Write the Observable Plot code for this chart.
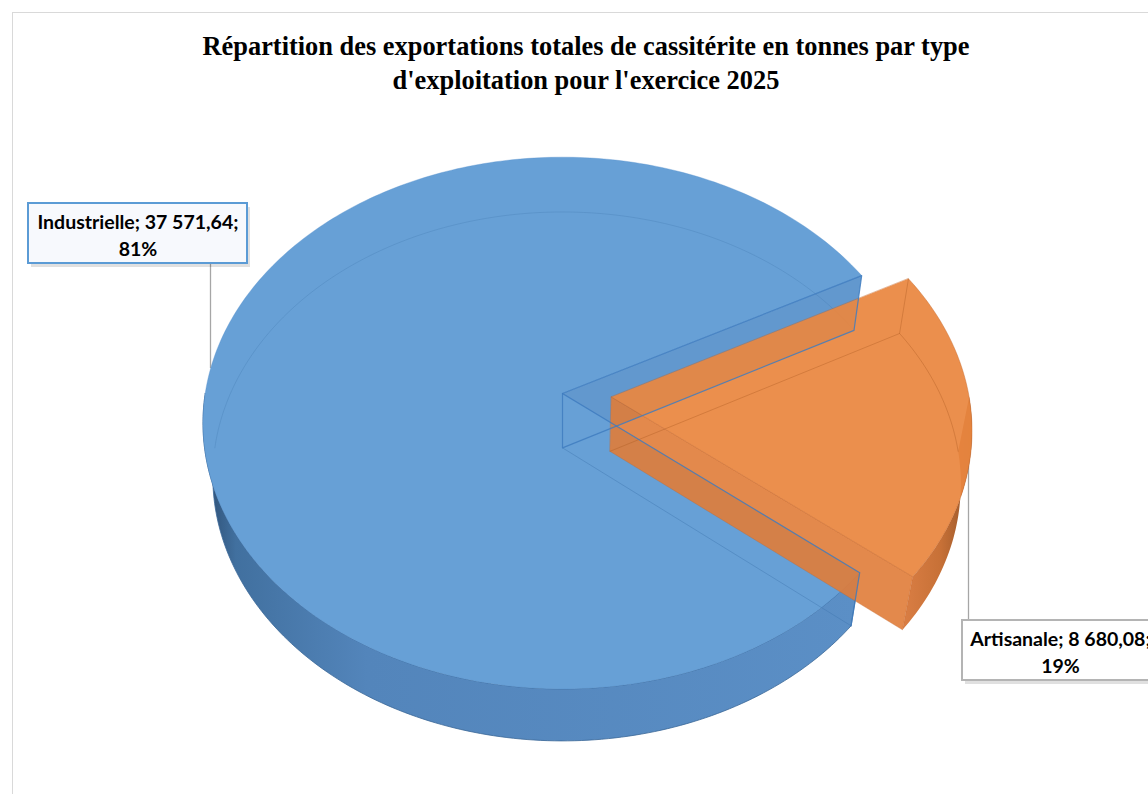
<!DOCTYPE html>
<html><head><meta charset="utf-8">
<script src="https://cdn.jsdelivr.net/npm/d3@7"></script>
<script src="https://cdn.jsdelivr.net/npm/@observablehq/plot@0.6"></script>
<style>
body{margin:0;background:#fff;overflow:hidden;width:1148px;height:794px;position:relative;}
#frame{position:absolute;left:12px;top:12px;width:1300px;height:900px;border-left:1px solid #d9d9d9;border-top:1px solid #d9d9d9;pointer-events:none;z-index:2}
#title{height:100px;box-sizing:border-box;padding-top:29px;padding-left:24px;text-align:center;font-family:"Liberation Serif",serif;font-weight:bold;font-size:26.4px;line-height:34px;color:#000}
#chart svg{display:block}
</style></head><body>
<div id="title">Répartition des exportations totales de cassitérite en tonnes par type<br>d'exploitation pour l'exercice 2025</div>
<div id="chart"></div>
<div id="frame"></div>
<script>
// ---- data ----
const categories = ["Industrielle", "Artisanale"];
const values = [37571.64, 8680.08];

// ---- style / layout ----
const topColors = ["#67a0d6", "#ea8640"];
const wallColors = ["#5a92cb", "#e07c38"];
const edgeColors = ["#3f7cc0", "#c4662a"];
const explodeBy = [0, 0.137];
const cam = {cx: 562, cy: 393, F: 2181, D: 6.104, tilt: 47.3, depth: 0.2305, rotation: 28.2};
const labelLayout = [
  {x1: 28, x2: 247, y1: 203, y2: 263, border: "#5b9bd5", bg: "#f7f9fd", lx: 210, ly1: 263, ly2: 368},
  {x1: 962, x2: 1158, y1: 620, y2: 680, border: "#b4b4b4", bg: "#ffffff", lx: 968, ly1: 422, ly2: 620}
];
const W = 1148, TOP = 100, H = 694;

// ---- projection of the 3D pie ----
const rad = d => d * Math.PI / 180;
const sT = Math.sin(rad(cam.tilt)), cT = Math.cos(rad(cam.tilt));
function P(X, Y, Z) {
  const yc = Y * sT + Z * cT, d = cam.D + Y * cT - Z * sT;
  return [cam.cx + cam.F * X / d, cam.cy - cam.F * yc / d];
}
const total = d3.sum(values);
const fracs = values.map(v => v / total);
let acc = cam.rotation;
const slices = categories.map((cat, i) => {
  const a0 = acc, a1 = acc + 360 * fracs[i]; acc = a1;
  const mid = rad((a0 + a1) / 2), e = explodeBy[i];
  return {cat, i, a0, a1, ox: e * Math.cos(mid), oy: e * Math.sin(mid)};
});
const Zb = -cam.depth;
function pt(sl, phi, r, Z) { return P(sl.ox + r * Math.cos(rad(phi)), sl.oy + r * Math.sin(rad(phi)), Z); }
function arcPts(sl, from, to, Z) {
  const n = Math.max(2, Math.ceil(Math.abs(to - from)));
  return d3.range(n + 1).map(k => pt(sl, from + (to - from) * k / n, 1, Z));
}
function inter(sl, lo, hi) {
  for (const off of [0, 360, -360]) {
    const a = Math.max(sl.a0, lo + off), b = Math.min(sl.a1, hi + off);
    if (b > a) return [a, b];
  }
  return null;
}
const apex = (sl, Z) => pt(sl, 0, 0, Z);
function wallPts(sl, a) { return [apex(sl, 0), pt(sl, a, 1, 0), pt(sl, a, 1, Zb), apex(sl, Zb)]; }
function sidePts(sl) { const r = inter(sl, 180, 360); return r ? [...arcPts(sl, r[0], r[1], 0), ...arcPts(sl, r[1], r[0], Zb)] : null; }
function backRimPts(sl) { const r = inter(sl, 0, 180); return r ? arcPts(sl, r[0], r[1], Zb) : null; }
function topFace(sl) { return [apex(sl, 0), ...arcPts(sl, sl.a0, sl.a1, 0)]; }

const toData = pts => pts.map(([x, y]) => ({x, y}));
function poly(pts, o) {
  return Plot.line(toData(pts), {x: "x", y: "y", curve: "linear-closed", fill: o.fill ?? "none", fillOpacity: o.fo ?? 1,
    stroke: o.stroke ?? "none", strokeWidth: o.sw ?? 1, strokeOpacity: o.so ?? 1, strokeLinejoin: "round"});
}
function pathMark(pts, o) {
  return Plot.line(toData(pts), {x: "x", y: "y", curve: "linear", stroke: o.stroke, strokeWidth: o.sw ?? 1, strokeOpacity: o.so ?? 1});
}

const [blue, orange] = slices;
const marks = [];
// leader lines
labelLayout.forEach(L => marks.push(Plot.ruleX([L.lx], {y1: L.ly1, y2: L.ly2, stroke: "#a6a6a6", strokeWidth: 1.3})));
// blue (largest) slice
marks.push(poly(wallPts(blue, blue.a1), {fill: wallColors[0], fo: 0.9}));
marks.push(poly(wallPts(blue, blue.a0), {fill: wallColors[0], fo: 0.95}));
marks.push(poly(sidePts(blue), {fill: "url(#gSide0)", stroke: "#3a6797", sw: 0.8}));
marks.push(poly(topFace(blue), {fill: topColors[0], stroke: "#5590cc", sw: 0.6, so: 0.6}));
marks.push(pathMark(backRimPts(blue), {stroke: "#3d74ad", sw: 0.8, so: 0.35}));
marks.push(pathMark([apex(blue, Zb), pt(blue, blue.a1, 1, Zb)], {stroke: "#3d74ad", sw: 0.8, so: 0.5}));
// orange slice
const sideO = sidePts(orange);
if (sideO) marks.push(poly(sideO, {fill: "url(#gSide1)", fo: 0.95}));
marks.push(poly(wallPts(orange, orange.a0), {fill: wallColors[1], fo: 0.9, stroke: edgeColors[1], sw: 0.6, so: 0.6}));
marks.push(poly(topFace(orange), {fill: topColors[1], fo: 0.93, stroke: edgeColors[1], sw: 0.7, so: 0.6}));
const brO = backRimPts(orange);
if (brO) marks.push(pathMark(brO, {stroke: "#a8561f", sw: 0.8, so: 0.45}));
marks.push(pathMark([apex(orange, Zb), pt(orange, orange.a1, 1, Zb), pt(orange, orange.a1, 1, 0)], {stroke: "#a8561f", sw: 0.8, so: 0.45}));
// blue cut-wall edges on top
const wA = wallPts(blue, blue.a0), wB = wallPts(blue, blue.a1);
marks.push(pathMark([wA[3], wA[0], wA[1], wA[2], wA[3]], {stroke: edgeColors[0], sw: 1.2, so: 0.85}));
marks.push(pathMark([wB[0], wB[1], wB[2]], {stroke: edgeColors[0], sw: 1.2, so: 0.85}));
// labels
const fr = d3.formatLocale({decimal: ",", thousands: " ", grouping: [3], currency: ["", ""]}).format(",.2f");
const pct = d3.format(".0%");
const labels = categories.map((cat, i) => ({text: `${cat}; ${fr(values[i])};\n${pct(fracs[i])}`, ...labelLayout[i]}));
marks.push(Plot.rect(labels, {x1: d => d.x1 + 3, x2: d => d.x2 + 3, y1: d => d.y1 + 4, y2: d => d.y2 + 4, fill: "#000", fillOpacity: 0.12}));
marks.push(Plot.rect(labels, {x1: "x1", x2: "x2", y1: "y1", y2: "y2", fill: "bg", stroke: "border", strokeWidth: 2}));
marks.push(Plot.text(labels, {x: d => (d.x1 + d.x2) / 2, y: d => (d.y1 + d.y2) / 2, text: "text", fontSize: 19.5, fontWeight: "bold",
  fontFamily: "Lato", fill: "#000", lineHeight: 1.4, lineAnchor: "middle"}));

const svg = Plot.plot({
  width: W, height: H, margin: 0,
  x: {domain: [0, W], range: [0, W], axis: null},
  y: {domain: [TOP, TOP + H], range: [0, H], axis: null},
  color: {type: "identity"},
  style: {background: "transparent", overflow: "hidden"},
  marks
});
d3.select(svg).insert("defs", ":first-child").html(`
<linearGradient id="gSide0" x1="0" x2="1" y1="0" y2="0">
 <stop offset="0" stop-color="#2c4c70"/><stop offset="0.05" stop-color="#41709f"/>
 <stop offset="0.25" stop-color="#5385bb"/><stop offset="1" stop-color="#5b8fc6"/></linearGradient>
<linearGradient id="gSide1" x1="0" x2="1" y1="0" y2="0">
 <stop offset="0" stop-color="#d8773a"/><stop offset="0.55" stop-color="#c4692c"/>
 <stop offset="1" stop-color="#8e4a1c"/></linearGradient>`);
document.getElementById("chart").appendChild(svg);
</script>
</body></html>
